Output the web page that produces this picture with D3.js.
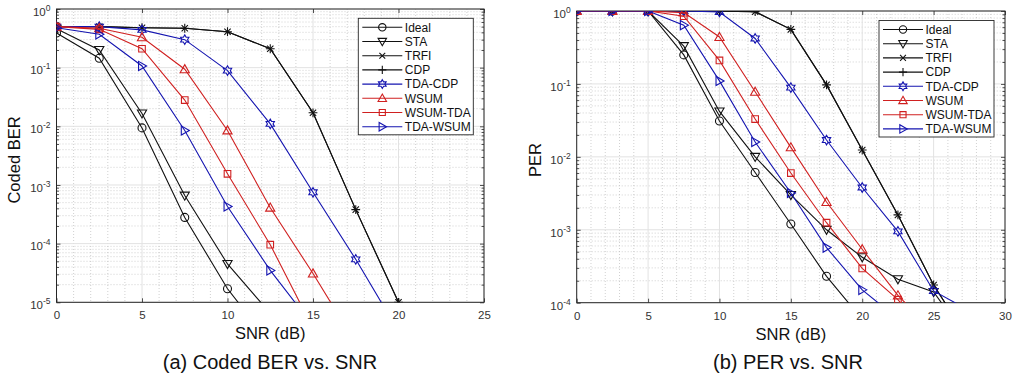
<!DOCTYPE html>
<html><head><meta charset="utf-8">
<script src="https://cdn.jsdelivr.net/npm/d3@7"></script>
<style>
body{margin:0;background:#fff}
svg{display:block}
text{font-family:"Liberation Sans",Arial,Helvetica,sans-serif}
</style>
</head><body>
<svg id="c" width="1015" height="376"></svg>
<script>
// ---------------- data ----------------
const seriesNames   = ["Ideal","STA","TRFI","CDP","TDA-CDP","WSUM","WSUM-TDA","TDA-WSUM"];
const seriesColors  = ["#111","#111","#111","#111","#1414b0","#d02020","#d02020","#1414b0"];
const seriesMarkers = ["o","v","x","+","h","^","s",">"];

const snrBER = [0, 2.5, 5, 7.5, 10, 12.5, 15, 17.5, 20];
const berIdeal   = [0.39, 0.145, 0.0094, 2.8e-4, 1.7e-5, 2e-6, null, null, null];
const berSTA     = [0.46, 0.20, 0.0166, 6.6e-4, 4.5e-5, 6.5e-6, null, null, null];
const berTRFI    = [0.50, 0.50, 0.48, 0.47, 0.41, 0.21, 0.017, 3.8e-4, 1e-5];
const berCDP     = [0.50, 0.50, 0.48, 0.47, 0.41, 0.21, 0.017, 3.8e-4, 1e-5];
const berTDACDP  = [0.50, 0.50, 0.44, 0.30, 0.089, 0.011, 7.5e-4, 5.4e-5, 3.2e-6];
const berWSUM    = [0.50, 0.47, 0.33, 0.094, 0.0085, 4.1e-4, 3.1e-5, 2e-6, null];
const berWSUMTDA = [0.50, 0.45, 0.21, 0.028, 1.55e-3, 9.6e-5, 3.6e-6, null, null];
const berTDAWSUM = [0.48, 0.37, 0.107, 0.0085, 4.3e-4, 3.5e-5, 4e-6, null, null];

const snrPER = [0, 2.5, 5, 7.5, 10, 12.5, 15, 17.5, 20, 22.5, 25, 27.5];
const perIdeal   = [1, 1, 1, 0.25, 0.031, 6.1e-3, 1.2e-3, 2.3e-4, 5.9e-5, null, null, null];
const perSTA     = [1, 1, 1, 0.33, 0.042, 0.010, 3.0e-3, 1.0e-3, 4.2e-4, 2.1e-4, 1.4e-4, 3e-5];
const perTRFI    = [1, 1, 1, 1, 0.99, 0.98, 0.56, 0.097, 0.0124, 1.6e-3, 1.75e-4, 3e-5];
const perCDP     = [1, 1, 1, 1, 0.99, 0.98, 0.56, 0.097, 0.0124, 1.6e-3, 1.75e-4, 3e-5];
const perTDACDP  = [1, 1, 1, 1, 0.97, 0.42, 0.089, 0.017, 3.8e-3, 9.5e-4, 1.45e-4, 7.8e-5];
const perWSUM    = [1, 1, 1, 0.95, 0.44, 0.078, 0.0135, 2.4e-3, 5.4e-4, 1.26e-4, 4e-5, null];
const perWSUMTDA = [1, 1, 1, 0.85, 0.21, 0.033, 6.0e-3, 1.25e-3, 2.95e-4, 1.1e-4, 3e-5, null];
const perTDAWSUM = [1, 1, 1, 0.64, 0.11, 0.016, 3.2e-3, 5.7e-4, 1.5e-4, 6e-5, null, null];

const xTicksBER = [0, 5, 10, 15, 20, 25];
const xTicksPER = [0, 5, 10, 15, 20, 25, 30];
const yTicksBER = [1, 1e-1, 1e-2, 1e-3, 1e-4, 1e-5];
const yTicksPER = [1, 1e-1, 1e-2, 1e-3, 1e-4];

// ---------------- drawing ----------------
const svg = d3.select("#c");

function markerPath(type, r){
  const p = d3.path();
  if(type==="o"){ p.moveTo(r,0); p.arc(0,0,r,0,2*Math.PI); }
  else if(type==="v"){ p.moveTo(-r,-0.75*r); p.lineTo(r,-0.75*r); p.lineTo(0,r); p.closePath(); }
  else if(type==="^"){ p.moveTo(0,-r); p.lineTo(r,0.75*r); p.lineTo(-r,0.75*r); p.closePath(); }
  else if(type===">"){ p.moveTo(r,0); p.lineTo(-0.75*r,-r); p.lineTo(-0.75*r,r); p.closePath(); }
  else if(type==="s"){ const s=0.72*r; p.rect(-s,-s,2*s,2*s); }
  else if(type==="x"){ const s=0.72*r; p.moveTo(-s,-s); p.lineTo(s,s); p.moveTo(-s,s); p.lineTo(s,-s); }
  else if(type==="+"){ p.moveTo(-r,0); p.lineTo(r,0); p.moveTo(0,-r); p.lineTo(0,r); }
  else if(type==="h"){
    for(let i=0;i<12;i++){
      const a = -Math.PI/2 + i*Math.PI/6;
      const rr = (i%2===0) ? r : r/Math.sqrt(3);
      const X = rr*Math.cos(a), Y = rr*Math.sin(a);
      if(i===0) p.moveTo(X,Y); else p.lineTo(X,Y);
    }
    p.closePath();
  }
  return p.toString();
}
const markerSize = {o:4,v:4.6,"^":4.6,">":4.6,s:4.6,x:4.4,"+":4.4,h:4.8};

function supLabel(sel, d){
  const e = Math.round(Math.log10(d));
  sel.text(null);
  sel.append("tspan").text("10");
  sel.append("tspan").attr("dy",-5).attr("font-size",8.5).text(String(e).replace("-","-"));
}

function panel(o){
  const g = svg.append("g");
  const x = d3.scaleLinear().domain(o.xDomain).range([o.L, o.R]);
  const y = d3.scaleLog().domain(o.yDomain).range([o.B, o.T]);
  const id = "clip"+o.key;
  svg.append("clipPath").attr("id",id).append("rect")
     .attr("x",o.L).attr("y",o.T).attr("width",o.R-o.L).attr("height",o.B-o.T);

  // minor grid
  const xMinor = d3.range(o.xDomain[0], o.xDomain[1]+1e-9, 1).filter(v=>v%5!==0);
  g.selectAll(".mgx").data(xMinor).join("line")
    .attr("x1",d=>x(d)).attr("x2",d=>x(d)).attr("y1",o.T).attr("y2",o.B)
    .attr("stroke","#bdbdbd").attr("stroke-width",0.7).attr("stroke-dasharray","1,2");
  const yMinor = [];
  const e0 = Math.round(Math.log10(o.yDomain[0])), e1 = Math.round(Math.log10(o.yDomain[1]));
  for(let e=e0;e<e1;e++) for(let m=2;m<=9;m++) yMinor.push(m*Math.pow(10,e));
  g.selectAll(".mgy").data(yMinor).join("line")
    .attr("x1",o.L).attr("x2",o.R).attr("y1",d=>y(d)).attr("y2",d=>y(d))
    .attr("stroke","#bdbdbd").attr("stroke-width",0.7).attr("stroke-dasharray","1,2");
  // major grid
  g.selectAll(".Mgx").data(o.xTicks).join("line")
    .attr("x1",d=>x(d)).attr("x2",d=>x(d)).attr("y1",o.T).attr("y2",o.B)
    .attr("stroke","#e2e2e2").attr("stroke-width",1);
  g.selectAll(".Mgy").data(o.yTicks).join("line")
    .attr("x1",o.L).attr("x2",o.R).attr("y1",d=>y(d)).attr("y2",d=>y(d))
    .attr("stroke","#e2e2e2").attr("stroke-width",1);

  // axes
  const ax = g.append("g").attr("transform",`translate(0,${o.B})`)
    .call(d3.axisBottom(x).tickValues(o.xTicks).tickSize(-4).tickPadding(9).tickFormat(d3.format("d")));
  const axT = g.append("g").attr("transform",`translate(0,${o.T})`)
    .call(d3.axisTop(x).tickValues(o.xTicks).tickSize(-4).tickFormat(""));
  const ay = g.append("g").attr("transform",`translate(${o.L},0)`)
    .call(d3.axisLeft(y).tickValues(o.yTicks).tickSize(-4).tickPadding(6).tickFormat(""));
  const ayR = g.append("g").attr("transform",`translate(${o.R},0)`)
    .call(d3.axisRight(y).tickValues(o.yTicks).tickSize(-4).tickFormat(""));
  const ayMin = g.append("g").attr("transform",`translate(${o.L},0)`)
    .call(d3.axisLeft(y).tickValues(yMinor).tickSize(-2.5).tickFormat(""));
  const ayMinR = g.append("g").attr("transform",`translate(${o.R},0)`)
    .call(d3.axisRight(y).tickValues(yMinor).tickSize(-2.5).tickFormat(""));
  [ax,axT,ay,ayR,ayMin,ayMinR].forEach(a=>{
    a.select(".domain").remove();
    a.selectAll("line").attr("stroke","#262626").attr("stroke-width",0.8);
    a.selectAll("text").attr("fill","#333").attr("font-size",11.5)
      .attr("font-family",'"Liberation Sans",Arial,sans-serif');
  });
  ay.selectAll(".tick text").each(function(d){ supLabel(d3.select(this), d); })
    .attr("dy","0.55em");
  // box
  g.append("rect").attr("x",o.L).attr("y",o.T).attr("width",o.R-o.L).attr("height",o.B-o.T)
    .attr("fill","none").attr("stroke","#262626").attr("stroke-width",1);

  // series
  const plot = g.append("g").attr("clip-path",`url(#${id})`);
  o.data.forEach((vals,i)=>{
    const pts = o.snr.map((s,j)=>[s,vals[j]]).filter(p=>p[1]!=null);
    const line = d3.line().x(p=>x(p[0])).y(p=>y(p[1]));
    plot.append("path").attr("d",line(pts)).attr("fill","none")
      .attr("stroke",seriesColors[i]).attr("stroke-width",1.1);
    const mk = seriesMarkers[i];
    plot.selectAll(null).data(pts.filter(p=>p[1]>=o.yDomain[0]*0.999)).join("path")
      .attr("transform",p=>`translate(${x(p[0])},${y(p[1])})`)
      .attr("d",markerPath(mk, markerSize[mk]))
      .attr("fill","none").attr("stroke",seriesColors[i]).attr("stroke-width",1.1);
  });

  // labels
  g.append("text").attr("x",(o.L+o.R)/2).attr("y",o.B+37).attr("text-anchor","middle")
    .attr("font-size",16.5).attr("fill","#111").text("SNR (dB)");
  g.append("text").attr("transform",`translate(${o.ylx},${o.yly}) rotate(-90)`)
    .attr("text-anchor","middle").attr("font-size",16.5).attr("fill","#111").text(o.ylabel);
  g.append("text").attr("x",o.capX).attr("y",369).attr("text-anchor","middle")
    .attr("font-size",20).attr("fill","#111").text(o.caption);

  // legend
  const lg = g.append("g");
  lg.append("rect").attr("x",o.legX).attr("y",o.legY).attr("width",115).attr("height",116.5)
    .attr("fill","#fff").attr("stroke","#262626").attr("stroke-width",0.9);
  seriesNames.forEach((n,i)=>{
    const cy = o.legY + 9 + i*14.2;
    const lx0 = o.legX+4, lx1 = o.legX+44;
    lg.append("line").attr("x1",lx0).attr("x2",lx1).attr("y1",cy).attr("y2",cy)
      .attr("stroke",seriesColors[i]).attr("stroke-width",1.1);
    const mk = seriesMarkers[i];
    lg.append("path").attr("transform",`translate(${(lx0+lx1)/2},${cy})`)
      .attr("d",markerPath(mk, markerSize[mk]*0.92)).attr("fill","none")
      .attr("stroke",seriesColors[i]).attr("stroke-width",1.1);
    lg.append("text").attr("x",o.legX+46.5).attr("y",cy+4.2).attr("font-size",12)
      .attr("fill","#111").text(n);
  });
}

panel({key:"a", L:56.5, R:484, T:9, B:302.3, xDomain:[0,25], yDomain:[1e-5,1],
  xTicks:xTicksBER, yTicks:yTicksBER, snr:snrBER,
  data:[berIdeal,berSTA,berTRFI,berCDP,berTDACDP,berWSUM,berWSUMTDA,berTDAWSUM],
  legX:358.3, legY:18.3, ylabel:"Coded BER", ylx:20, yly:160,
  caption:"(a) Coded BER vs. SNR", capX:270});

panel({key:"b", L:576.7, R:1005, T:11, B:302.7, xDomain:[0,30], yDomain:[1e-4,1],
  xTicks:xTicksPER, yTicks:yTicksPER, snr:snrPER,
  data:[perIdeal,perSTA,perTRFI,perCDP,perTDACDP,perWSUM,perWSUMTDA,perTDAWSUM],
  legX:879, legY:20.5, ylabel:"PER", ylx:541, yly:160,
  caption:"(b) PER vs. SNR", capX:788});
</script>
</body></html>
